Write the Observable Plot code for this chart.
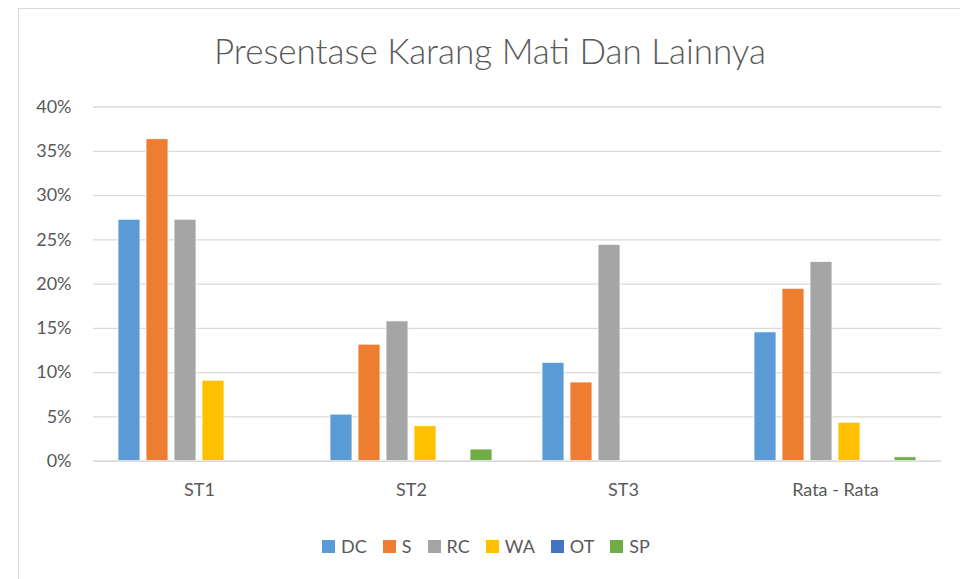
<!DOCTYPE html>
<html><head><meta charset="utf-8">
<script src="https://cdn.jsdelivr.net/npm/d3@7"></script>
<script src="https://cdn.jsdelivr.net/npm/@observablehq/plot@0.6"></script>
<style>
body{margin:0;background:#fff;font-family:Lato,"Open Sans",sans-serif;}
#wrap{position:relative;width:960px;height:579px;overflow:hidden;}
#frame{position:absolute;left:18px;top:8px;width:960px;height:600px;border:1px solid #d9d9d9;box-sizing:border-box;}
#title{position:absolute;left:0;top:29px;width:980px;text-align:center;font-size:35px;color:#595959;font-weight:300;}
#chart{position:absolute;left:0;top:90px;}
#legend{position:absolute;left:0;top:535px;width:972px;display:flex;justify-content:center;gap:0;font-size:18px;color:#595959;}
#legend span.it{display:inline-flex;align-items:center;margin:0 8px 0 8px;}
#legend span.sw{display:inline-block;width:13px;height:13px;margin-right:6px;}
</style></head>
<body><div id="wrap"><div id="frame"></div><div id="title">Presentase Karang Mati Dan Lainnya</div><div id="chart"></div><div id="legend"></div></div>
<script>
const stations = ["ST1", "ST2", "ST3", "Rata - Rata"];
const seriesNames = ["DC", "S", "RC", "WA", "OT", "SP"];
const seriesColors = ["#5b9bd5", "#ed7d31", "#a5a5a5", "#ffc000", "#4472c4", "#70ad47"];
const DC = [0.2727, 0.0526, 0.1111, 0.1455];
const S  = [0.3636, 0.1316, 0.0889, 0.1947];
const RC = [0.2727, 0.1579, 0.2444, 0.2250];
const WA = [0.0909, 0.0395, 0.0000, 0.0435];
const OT = [0.0000, 0.0000, 0.0000, 0.0000];
const SP = [0.0000, 0.0132, 0.0000, 0.0044];
const yTicks = [0, 0.05, 0.10, 0.15, 0.20, 0.25, 0.30, 0.35, 0.40];

const valuesBySeries = {DC, S, RC, WA, OT, SP};
const data = [];
stations.forEach((st, i) => seriesNames.forEach(s => data.push({station: st, series: s, value: valuesBySeries[s][i]})));

const plot = Plot.plot({
  width: 960, height: 430,
  marginLeft: 92, marginRight: 18, marginTop: 16.5, marginBottom: 59.3,
  style: {fontFamily: "Lato, 'Open Sans', sans-serif", fontSize: "18px", color: "#595959", background: "transparent"},
  fx: {domain: stations, padding: 0, label: null, axis: "bottom", tickSize: 0, tickPadding: 22},
  x: {domain: seriesNames, paddingInner: 0.2, paddingOuter: 0.8, axis: null},
  y: {domain: [0, 0.4], ticks: yTicks, tickFormat: d3.format(".0%"), label: null, axis: null},
  color: {domain: seriesNames, range: seriesColors},
  marks: [
    Plot.gridY(yTicks, {stroke: "#d9d9d9", strokeOpacity: 1, strokeWidth: 1.3}),
    Plot.axisY(yTicks, {tickSize: 0, tickPadding: 22, tickFormat: d3.format(".0%"), fill: "#595959", label: null}),
    Plot.barY(data, {fx: "station", x: "series", y: "value", fill: "series", stroke: "white", strokeWidth: 0.8}),
    Plot.ruleY([0], {stroke: "#d9d9d9", strokeWidth: 1.3})
  ]
});
document.getElementById("chart").appendChild(plot);

const leg = document.getElementById("legend");
seriesNames.forEach((s, i) => {
  const it = document.createElement("span"); it.className = "it";
  const sw = document.createElement("span"); sw.className = "sw"; sw.style.background = seriesColors[i];
  it.appendChild(sw); it.appendChild(document.createTextNode(s));
  leg.appendChild(it);
});
</script></body></html>
